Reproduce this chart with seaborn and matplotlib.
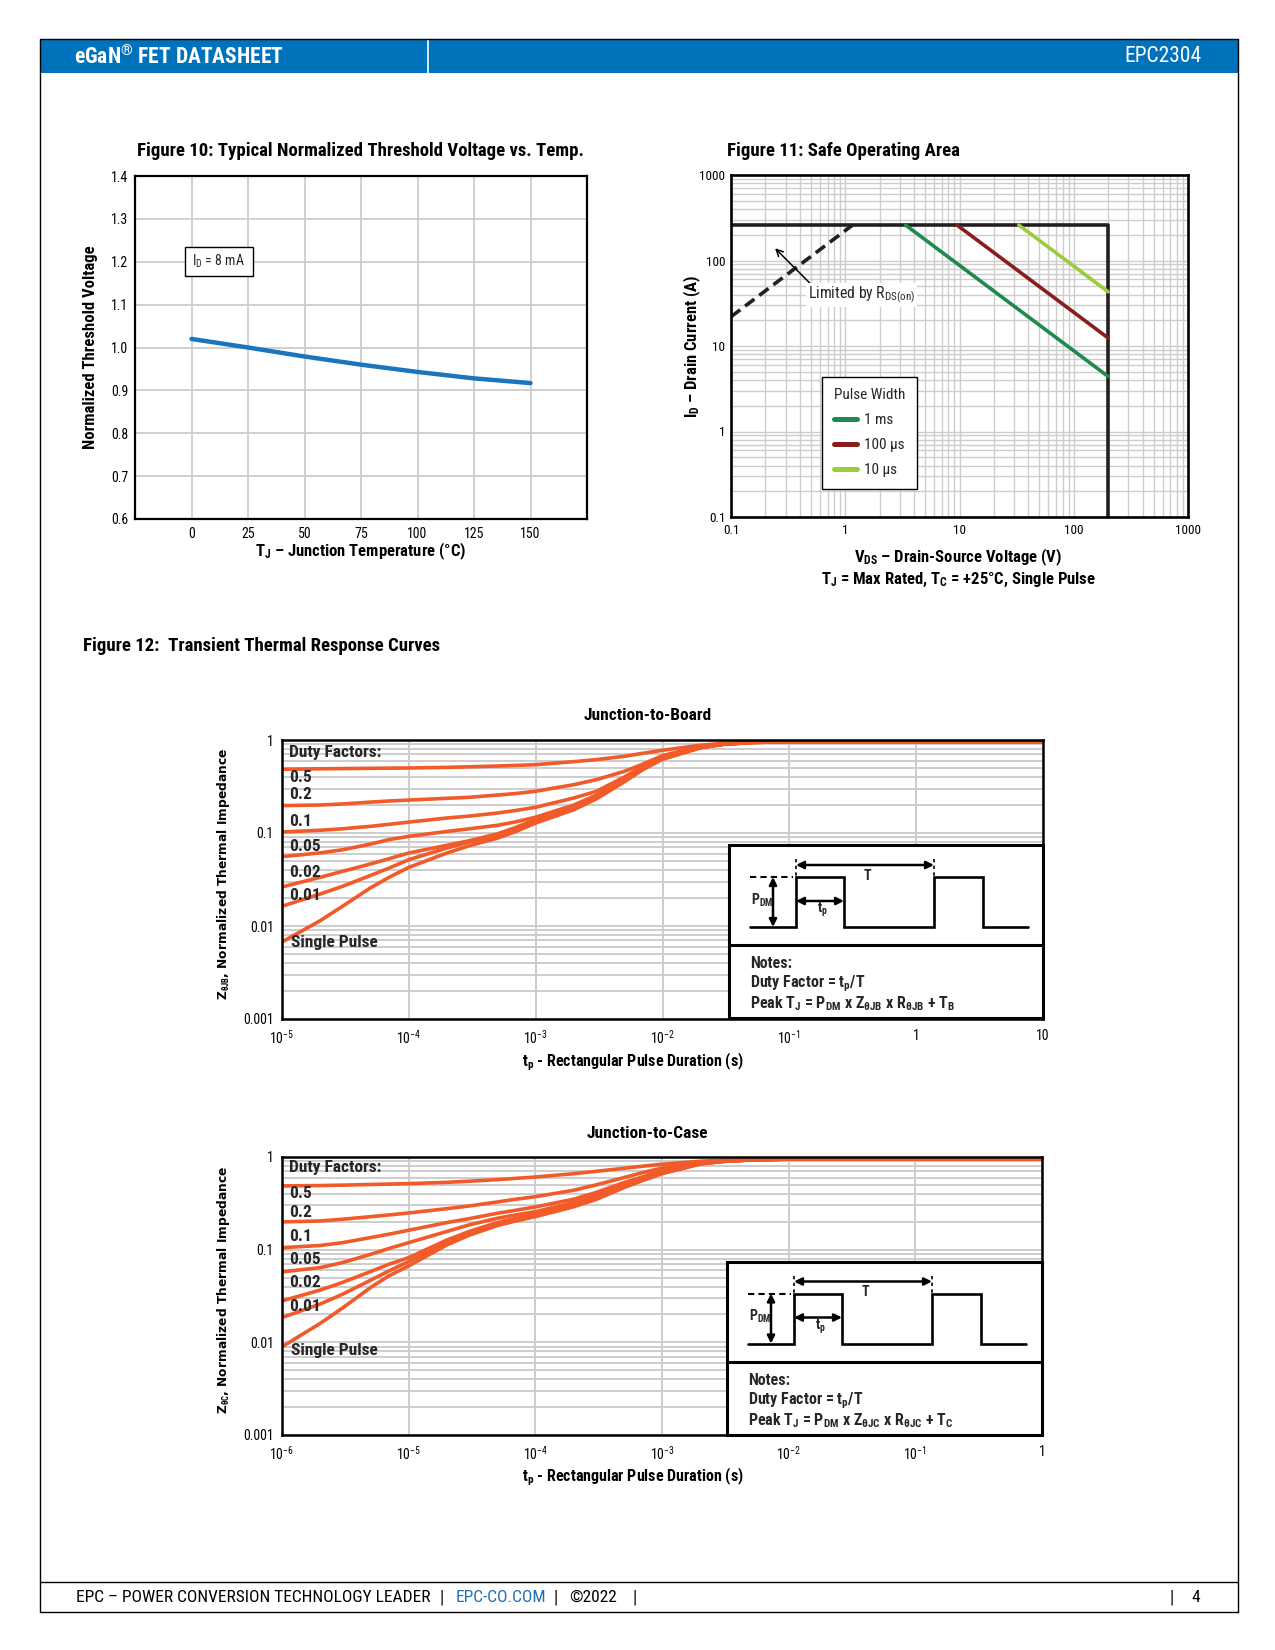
import numpy as np
import matplotlib
matplotlib.use("Agg")
import matplotlib.pyplot as plt
import seaborn as sns
from matplotlib import font_manager as fm
from matplotlib.patches import Rectangle
from matplotlib.lines import Line2D
from matplotlib.ticker import LogLocator, NullLocator, FixedLocator

# ---------------------------------------------------------------- data
# Figure 10
temp_c = [0, 25, 50, 75, 100, 125, 150]
vth_norm = [1.020, 1.000, 0.979, 0.960, 0.943, 0.928, 0.917]
temp_ticks = [0, 25, 50, 75, 100, 125, 150]
vth_ticks = [0.6, 0.7, 0.8, 0.9, 1.0, 1.1, 1.2, 1.3, 1.4]

# Figure 11 (safe operating area)
soa_rds_v = [0.1, 1.16]
soa_rds_i = [22, 260]
soa_limit_v = [0.1, 200, 200]
soa_limit_i = [260, 260, 0.1]
soa_1ms_v = [3.37, 200]
soa_1ms_i = [260, 4.4]
soa_100us_v = [9.5, 200]
soa_100us_i = [260, 12.4]
soa_10us_v = [33, 200]
soa_10us_i = [260, 43]
soa_labels = ["1 ms", "100 \u00b5s", "10 \u00b5s"]
soa_ticks = [0.1, 1, 10, 100, 1000]
soa_ticklabels = ["0.1", "1", "10", "100", "1000"]

# Figure 12 - junction to board
tp_jb = [1e-5, 2e-5, 3e-5, 5e-5, 7e-5, 1e-4, 2e-4, 3e-4, 5e-4, 7e-4, 1e-3,
         2e-3, 3e-3, 5e-3, 7e-3, 1e-2, 2e-2, 3e-2, 5e-2, 1e-1, 1, 10]
zjb_05 = [0.484, 0.490, 0.493, 0.496, 0.498, 0.500, 0.508, 0.515, 0.525, 0.533, 0.543,
          0.585, 0.615, 0.667, 0.720, 0.775, 0.880, 0.920, 0.950, 0.960, 0.960, 0.960]
zjb_02 = [0.197, 0.200, 0.205, 0.215, 0.221, 0.226, 0.236, 0.242, 0.256, 0.266, 0.281,
          0.331, 0.374, 0.460, 0.550, 0.680, 0.850, 0.910, 0.945, 0.960, 0.960, 0.960]
zjb_01 = [0.1025, 0.107, 0.111, 0.118, 0.124, 0.131, 0.145, 0.152, 0.164, 0.175, 0.189,
          0.238, 0.280, 0.400, 0.520, 0.660, 0.840, 0.905, 0.945, 0.960, 0.960, 0.960]
zjb_005 = [0.0557, 0.0611, 0.066, 0.076, 0.085, 0.092, 0.104, 0.111, 0.121, 0.132, 0.148,
           0.200, 0.255, 0.380, 0.505, 0.645, 0.835, 0.900, 0.945, 0.960, 0.960, 0.960]
zjb_002 = [0.0263, 0.0334, 0.0387, 0.0465, 0.053, 0.061, 0.0737, 0.0826, 0.098, 0.115, 0.140,
           0.190, 0.245, 0.370, 0.495, 0.635, 0.830, 0.900, 0.940, 0.960, 0.960, 0.960]
zjb_001 = [0.0163, 0.0221, 0.0267, 0.035, 0.042, 0.0517, 0.069, 0.080, 0.094, 0.110, 0.134,
           0.185, 0.240, 0.365, 0.490, 0.630, 0.830, 0.900, 0.940, 0.960, 0.960, 0.960]
zjb_sp = [0.00673, 0.0114, 0.0163, 0.0258, 0.0334, 0.0427, 0.061, 0.073, 0.088, 0.104, 0.128,
          0.178, 0.232, 0.355, 0.480, 0.620, 0.825, 0.895, 0.940, 0.960, 0.960, 0.960]

# Figure 12 - junction to case
tp_jc = [1e-6, 2e-6, 3e-6, 5e-6, 7e-6, 1e-5, 2e-5, 3e-5, 5e-5, 7e-5, 1e-4,
         2e-4, 3e-4, 5e-4, 7e-4, 1e-3, 2e-3, 3e-3, 5e-3, 1e-2, 1e-1, 1]
zjc_05 = [0.487, 0.492, 0.497, 0.505, 0.510, 0.516, 0.533, 0.548, 0.570, 0.588, 0.608,
          0.660, 0.700, 0.755, 0.795, 0.835, 0.900, 0.925, 0.940, 0.950, 0.955, 0.955]
zjc_02 = [0.1993, 0.204, 0.213, 0.227, 0.237, 0.249, 0.277, 0.296, 0.327, 0.350, 0.373,
          0.437, 0.499, 0.599, 0.678, 0.760, 0.870, 0.910, 0.935, 0.950, 0.955, 0.955]
zjc_01 = [0.105, 0.111, 0.119, 0.135, 0.147, 0.162, 0.196, 0.216, 0.247, 0.266, 0.289,
          0.350, 0.413, 0.529, 0.609, 0.710, 0.855, 0.900, 0.930, 0.950, 0.955, 0.955]
zjc_005 = [0.0576, 0.064, 0.0725, 0.089, 0.103, 0.119, 0.157, 0.185, 0.218, 0.237, 0.257,
           0.322, 0.380, 0.499, 0.589, 0.692, 0.850, 0.900, 0.930, 0.950, 0.955, 0.955]
zjc_002 = [0.028, 0.0366, 0.0443, 0.058, 0.0697, 0.082, 0.127, 0.157, 0.196, 0.218, 0.241,
           0.304, 0.365, 0.483, 0.574, 0.680, 0.845, 0.895, 0.930, 0.950, 0.955, 0.955]
zjc_001 = [0.0185, 0.0259, 0.033, 0.0468, 0.059, 0.0744, 0.119, 0.149, 0.188, 0.211, 0.235,
           0.297, 0.356, 0.475, 0.565, 0.670, 0.845, 0.895, 0.930, 0.950, 0.955, 0.955]
zjc_sp = [0.00895, 0.016, 0.0234, 0.039, 0.0523, 0.0668, 0.1125, 0.143, 0.182, 0.204, 0.227,
          0.290, 0.347, 0.467, 0.556, 0.660, 0.840, 0.895, 0.930, 0.950, 0.955, 0.955]

duty_labels = ["0.5", "0.2", "0.1", "0.05", "0.02", "0.01", "Single Pulse"]
z_ticks = [0.001, 0.01, 0.1, 1]
z_ticklabels = ["0.001", "0.01", "0.1", "1"]
tp_jb_ticks = [1e-5, 1e-4, 1e-3, 1e-2, 1e-1, 1, 10]
tp_jb_ticklabels = [r"$\mathrm{10^{-5}}$", r"$\mathrm{10^{-4}}$", r"$\mathrm{10^{-3}}$",
                    r"$\mathrm{10^{-2}}$", r"$\mathrm{10^{-1}}$", "1", "10"]
tp_jc_ticks = [1e-6, 1e-5, 1e-4, 1e-3, 1e-2, 1e-1, 1]
tp_jc_ticklabels = [r"$\mathrm{10^{-6}}$", r"$\mathrm{10^{-5}}$", r"$\mathrm{10^{-4}}$",
                    r"$\mathrm{10^{-3}}$", r"$\mathrm{10^{-2}}$", r"$\mathrm{10^{-1}}$", "1"]

# ---------------------------------------------------------------- style
sns.set_style("white")

names = {}
for f in fm.fontManager.ttflist:
    names.setdefault(f.name, set()).add(str(f.stretch))
STRETCH = "normal"
if "Liberation Sans Narrow" in names:
    COND = "Liberation Sans Narrow"
elif "Roboto Condensed" in names:
    COND = "Roboto Condensed"
elif "DejaVu Sans" in names and ("condensed" in names["DejaVu Sans"] or "semi-condensed" in names["DejaVu Sans"]):
    COND = "DejaVu Sans"
    STRETCH = "condensed"
else:
    COND = "Liberation Sans"

plt.rcParams["font.family"] = [COND, "DejaVu Sans"]
plt.rcParams["font.stretch"] = STRETCH
plt.rcParams["mathtext.fontset"] = "custom"
plt.rcParams["mathtext.rm"] = COND
plt.rcParams["mathtext.sf"] = COND
plt.rcParams["mathtext.it"] = COND + ":italic"
plt.rcParams["mathtext.bf"] = COND + ":bold"
plt.rcParams["axes.unicode_minus"] = True

ORANGE = "#F15A29"
BLUE_LINE = "#1A75BC"
HEADER_BLUE = "#0072BC"
GRID = "#cdcdcd"
GREEN = "#1E8A4C"
DARKRED = "#8B1C1C"
LIGHTGREEN = "#9CCB3B"
EN = "\u2013"
DEG = "\u00b0"

W, H = 1275, 1650
fig = plt.figure(figsize=(W / 100, H / 100), dpi=100)


def add_ax(l, t, r, b):
    return fig.add_axes([l / W, 1 - b / H, (r - l) / W, (b - t) / H])


def style_axes(ax, lw=1.6, size=10):
    for s in ax.spines.values():
        s.set_visible(True)
        s.set_color("black")
        s.set_linewidth(lw)
    ax.tick_params(which="both", length=0, labelsize=size, colors="black")
    ax.set_axisbelow(True)
    ax.set_xlabel("")
    ax.set_ylabel("")


# background page
bg = add_ax(0, 0, W, H)
bg.set_xlim(0, W)
bg.set_ylim(H, 0)
bg.axis("off")
bg.add_patch(Rectangle((40, 39), 1198, 34, fc=HEADER_BLUE, ec="none"))
bg.plot([428, 428], [39, 73], color="white", lw=1.2)
bg.plot([40, 40, 1238, 1238], [1612, 39, 39, 1612], color="black", lw=1.0)
bg.plot([40, 1238], [1612, 1612], color="black", lw=1.0)
bg.plot([40, 1238], [1581.5, 1581.5], color="black", lw=1.0)

# ---------------------------------------------------------------- Figure 10
ax10 = add_ax(135, 176, 587, 519)
sns.lineplot(x=temp_c, y=vth_norm, ax=ax10, color=BLUE_LINE, linewidth=3.2, estimator=None)
ax10.set_xlim(-25, 175)
ax10.set_ylim(0.6, 1.4)
ax10.set_xticks(temp_ticks)
ax10.set_xticklabels([str(t) for t in temp_ticks])
ax10.set_yticks(vth_ticks)
ax10.set_yticklabels([f"{v:.1f}" for v in vth_ticks])
ax10.grid(True, color=GRID, lw=1.3)
style_axes(ax10, lw=1.6, size=10)
ax10.tick_params(axis="x", pad=6)
ax10.tick_params(axis="y", pad=5)
ax10.add_patch(Rectangle((-3, 1.166), 30, 0.068, fc="white", ec="black", lw=1.0, zorder=3))
ax10.text(12, 1.2, r"I$_\mathrm{D}$ = 8 mA", ha="center", va="center", fontsize=10, zorder=4)

# ---------------------------------------------------------------- Figure 11
ax11 = add_ax(731, 175, 1188, 517)
ax11.set_xscale("log")
ax11.set_yscale("log")
sns.lineplot(x=soa_rds_v, y=soa_rds_i, ax=ax11, color="#231F20", linewidth=2.6, estimator=None)
ax11.lines[-1].set_linestyle((0, (3.2, 1.7)))
sns.lineplot(x=soa_limit_v, y=soa_limit_i, ax=ax11, color="#231F20", linewidth=2.6,
             estimator=None, sort=False)
pulse_lines = []
for vv, ii, col, lab in [(soa_1ms_v, soa_1ms_i, GREEN, soa_labels[0]),
                         (soa_100us_v, soa_100us_i, DARKRED, soa_labels[1]),
                         (soa_10us_v, soa_10us_i, LIGHTGREEN, soa_labels[2])]:
    sns.lineplot(x=vv, y=ii, ax=ax11, color=col, linewidth=2.6, estimator=None)
    pulse_lines.append(Line2D([], [], color=col, lw=3.6, label=lab))
ax11.set_xlim(0.1, 1000)
ax11.set_ylim(0.1, 1000)
ax11.xaxis.set_major_locator(FixedLocator(soa_ticks))
ax11.yaxis.set_major_locator(FixedLocator(soa_ticks))
ax11.set_xticklabels(soa_ticklabels)
ax11.set_yticklabels(soa_ticklabels)
ax11.xaxis.set_minor_locator(LogLocator(base=10, subs=np.arange(2, 10)))
ax11.yaxis.set_minor_locator(LogLocator(base=10, subs=np.arange(2, 10)))
ax11.tick_params(which="minor", labelbottom=False, labelleft=False)
ax11.grid(True, which="both", color=GRID, lw=1.0)
style_axes(ax11, lw=1.9, size=9.5)
ax11.tick_params(axis="x", pad=5)
ax11.tick_params(axis="y", pad=4)
leg = ax11.legend(handles=pulse_lines, title="Pulse Width", loc="upper left",
                  bbox_to_anchor=(0.2, 0.41), frameon=True, fancybox=False,
                  edgecolor="black", fontsize=11, title_fontsize=11,
                  handlelength=1.5, handletextpad=0.45, borderpad=0.75, labelspacing=0.72,
                  borderaxespad=0)
leg.get_frame().set_linewidth(1.0)
leg.get_frame().set_alpha(1)
ax11.annotate("", xy=(0.243, 139), xytext=(0.489, 54.5),
              arrowprops=dict(arrowstyle="->", color="black", lw=1.1, mutation_scale=12,
                              shrinkA=0, shrinkB=0), zorder=5)
ax11.text(0.47, 39.5, r"Limited by R$_\mathrm{DS(on)}$", ha="left", va="center", fontsize=11.3,
          bbox=dict(fc="white", ec="none", pad=1.0), zorder=5)


# ---------------------------------------------------------------- Figure 12
def thermal(l, t, r, b, tp, series, xlim, xticks, xticklabels, label_y):
    ax = add_ax(l, t, r, b)
    ax.set_xscale("log")
    ax.set_yscale("log")
    for z in series:
        sns.lineplot(x=tp, y=z, ax=ax, color=ORANGE, linewidth=2.6, estimator=None)
    ax.set_xlim(*xlim)
    ax.set_ylim(0.001, 1)
    ax.xaxis.set_major_locator(FixedLocator(xticks))
    ax.set_xticklabels(xticklabels)
    ax.xaxis.set_minor_locator(NullLocator())
    ax.yaxis.set_major_locator(FixedLocator(z_ticks))
    ax.set_yticklabels(z_ticklabels)
    ax.yaxis.set_minor_locator(LogLocator(base=10, subs=np.arange(2, 10)))
    ax.tick_params(which="minor", labelleft=False)
    ax.grid(True, which="major", axis="x", color=GRID, lw=1.4)
    ax.grid(True, which="both", axis="y", color=GRID, lw=1.4)
    style_axes(ax, lw=1.8, size=10)
    ax.tick_params(axis="x", pad=7)
    ax.tick_params(axis="y", pad=6)
    ax.text(0.009, label_y[0], "Duty Factors:", transform=ax.transAxes, fontsize=12.5,
            fontweight="bold", ha="left", va="center", zorder=5)
    for lab, yy in zip(duty_labels, label_y[1:]):
        ax.text(0.009 if lab != "Single Pulse" else 0.012, yy, lab, transform=ax.transAxes,
                fontsize=12.5, fontweight="bold", ha="left", va="center", zorder=5)
    return ax


ax12a = thermal(282, 740, 1043, 1019, tp_jb,
                [zjb_05, zjb_02, zjb_01, zjb_005, zjb_002, zjb_001, zjb_sp],
                (1e-5, 10), tp_jb_ticks, tp_jb_ticklabels,
                [0.956, 0.866, 0.803, 0.707, 0.618, 0.524, 0.442, 0.275])
ax12b = thermal(282, 1157, 1042, 1435, tp_jc,
                [zjc_05, zjc_02, zjc_01, zjc_005, zjc_002, zjc_001, zjc_sp],
                (1e-6, 1), tp_jc_ticks, tp_jc_ticklabels,
                [0.964, 0.868, 0.802, 0.713, 0.632, 0.547, 0.461, 0.303])

# ---------------------------------------------------------------- overlay (texts, insets)
ov = add_ax(0, 0, W, H)
ov.set_xlim(0, W)
ov.set_ylim(H, 0)
ov.axis("off")
ov.patch.set_alpha(0)


def T(x, y, s, size=12, weight="normal", ha="left", va="center", color="black", rot=0, family=None):
    kw = {}
    if family is not None:
        kw["family"] = family
    ov.text(x, y, s, fontsize=size, fontweight=weight, ha=ha, va=va, color=color,
            rotation=rot, **kw)


# header / footer
T(74, 57, "eGaN" + r"$^{\mathbf{" + "\u00ae" + r"}}$" + " FET DATASHEET", 15.5, "bold", color="white")
T(1202, 57, "EPC2304", 15.5, ha="right", color="white")
T(76, 1597.5, "EPC " + EN + " POWER CONVERSION TECHNOLOGY LEADER", 12.5)
T(442, 1597.5, "|", 13, ha="center")
T(456, 1597.5, "EPC-CO.COM", 12.5, color="#1F6FB5")
T(555.5, 1597.5, "|", 13, ha="center")
T(569, 1597.5, "\u00a92022", 12.5)
T(634.5, 1597.5, "|", 13, ha="center")
T(1172, 1597.5, "|", 13, ha="center")
T(1196, 1597.5, "4", 12.5, ha="center")

# figure 10 texts
T(360, 150.5, "Figure 10: Typical Normalized Threshold Voltage vs. Temp.", 13.5, "bold", ha="center")
T(91, 347, "Normalized Threshold Voltage", 12, "bold", ha="center", rot=90)
T(361, 551.5, r"T$_\mathbf{J}$ " + EN + " Junction Temperature (" + DEG + "C)", 12, "bold", ha="center")

# figure 11 texts
T(727, 150.5, "Figure 11: Safe Operating Area", 13.5, "bold")
T(692, 346, r"I$_\mathbf{D}$ " + EN + " Drain Current (A)", 12, "bold", ha="center", rot=90)
T(958, 557, r"V$_\mathbf{DS}$ " + EN + " Drain-Source Voltage (V)", 12, "bold", ha="center")
T(958, 580, r"T$_\mathbf{J}$ = Max Rated, T$_\mathbf{C}$ = +25" + DEG + "C, Single Pulse", 12, "bold",
  ha="center")

# figure 12 texts
T(83, 646, "Figure 12:  Transient Thermal Response Curves", 13.5, "bold")
T(648, 716, "Junction-to-Board", 12.5, "bold", ha="center")
T(647, 1133, "Junction-to-Case", 12.5, "bold", ha="center")
T(633, 1061.5, r"t$_\mathbf{p}$ - Rectangular Pulse Duration (s)", 11.5, "bold", ha="center")
T(633, 1477, r"t$_\mathbf{p}$ - Rectangular Pulse Duration (s)", 11.5, "bold", ha="center")
T(224, 874, r"Z$_{\mathbf{\theta JB}}$, Normalized Thermal Impedance", 8.8, "bold", ha="center",
  rot=90, family="DejaVu Sans")
T(224, 1290, r"Z$_{\mathbf{\theta C}}$, Normalized Thermal Impedance", 8.8, "bold", ha="center",
  rot=90, family="DejaVu Sans")


def inset(x0, y0, x1, subs):
    dx, dy = x0 - 729, y0 - 845
    ov.add_patch(Rectangle((x0, y0), x1 - x0, 173, fc="white", ec="black", lw=2.2, zorder=6))
    ov.plot([x0, x1], [y0 + 100, y0 + 100], color="black", lw=2.2, zorder=7)
    wx = np.array([750, 796, 796, 844, 844, 934, 934, 983, 983, 1028]) + dx
    wy = np.array([927, 927, 877, 877, 927, 927, 877, 877, 927, 927]) + dy
    ov.plot(wx, wy, color="black", lw=1.9, zorder=7, solid_joinstyle="miter")
    ov.plot([750 + dx, 793 + dx], [877 + dy, 877 + dy], color="black", lw=1.5, ls=(0, (3, 2)), zorder=7)
    for xx in (796, 934):
        ov.plot([xx + dx, xx + dx], [859 + dy, 877 + dy], color="black", lw=1.2, ls=(0, (2, 2)), zorder=7)
    ap = dict(arrowstyle="<|-|>", color="black", lw=1.8, mutation_scale=11, shrinkA=0, shrinkB=0)
    ov.annotate("", xy=(934 + dx, 865 + dy), xytext=(796 + dx, 865 + dy), arrowprops=ap, zorder=8)
    ov.annotate("", xy=(773 + dx, 927 + dy), xytext=(773 + dx, 877 + dy), arrowprops=ap, zorder=8)
    ov.annotate("", xy=(844 + dx, 901 + dy), xytext=(796 + dx, 901 + dy), arrowprops=ap, zorder=8)
    ov.text(867 + dx, 876 + dy, "T", fontsize=10, fontweight="bold", ha="center", va="center", zorder=8)
    ov.text(751 + dx, 900 + dy, r"P$_\mathbf{DM}$", fontsize=10, fontweight="bold", ha="left",
            va="center", zorder=8)
    ov.text(822 + dx, 910 + dy, r"t$_\mathbf{p}$", fontsize=10, fontweight="bold", ha="center",
            va="center", zorder=8)
    ov.text(750 + dx, 964 + dy, "Notes:", fontsize=11.5, fontweight="bold", va="center", zorder=8)
    ov.text(750 + dx, 984 + dy, r"Duty Factor = t$_\mathbf{p}$/T", fontsize=11.5, fontweight="bold",
            va="center", zorder=8)
    ov.text(750 + dx, 1004 + dy,
            r"Peak T$_\mathbf{J}$ = P$_\mathbf{DM}$ x Z$_\mathbf{\theta J" + subs + r"}$ x R$_\mathbf{\theta J"
            + subs + r"}$ + T$_\mathbf{" + subs + r"}$",
            fontsize=11.5, fontweight="bold", va="center", zorder=8)


inset(729, 845, 1043, "B")
inset(727, 1261.5, 1042, "C")

fig.savefig("out.png", dpi=100)
